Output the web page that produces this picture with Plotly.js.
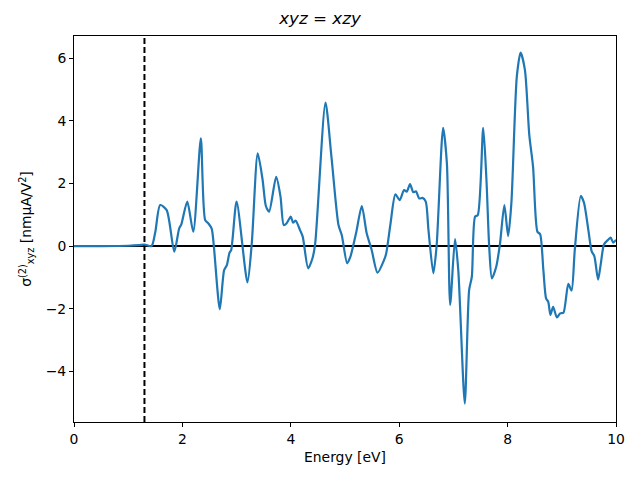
<!DOCTYPE html>
<html>
<head>
<meta charset="utf-8">
<script src="https://cdn.plot.ly/plotly-3.0.1.min.js"></script>
<style>
  body { margin: 0; background: #fff; }
  #plot { width: 640px; height: 480px; }
</style>
</head>
<body>
<div id="plot"></div>
<script>
// energy (eV) and sigma values
const energy = [0, 0.5, 1.0, 1.2, 1.3, 1.43, 1.5, 1.59, 1.71, 1.85, 1.94, 1.98, 2.09, 2.20, 2.34, 2.42, 2.48, 2.54, 2.58,
  2.69, 2.77, 2.82, 2.87, 2.90, 3.00, 3.20, 3.28, 3.39, 3.48, 3.54, 3.60, 3.73, 3.81, 3.87, 3.92, 4.00, 4.04, 4.09,
  4.17, 4.22, 4.32, 4.40, 4.45, 4.64, 4.75, 4.88, 4.94, 5.04, 5.10, 5.21, 5.31, 5.40, 5.49, 5.60, 5.72, 5.76, 5.84,
  5.93, 6.01, 6.09, 6.14, 6.20, 6.26, 6.31, 6.37, 6.43, 6.49, 6.54, 6.63, 6.69, 6.81, 6.88, 6.94, 7.03, 7.09, 7.21,
  7.29, 7.34, 7.40, 7.45, 7.55, 7.61, 7.66, 7.71, 7.79, 7.86, 7.94, 8.01, 8.07, 8.17, 8.24, 8.32, 8.40, 8.47, 8.55,
  8.60, 8.66, 8.71, 8.75, 8.79, 8.84, 8.91, 8.97, 9.03, 9.12, 9.18, 9.24, 9.35, 9.41, 9.49, 9.55, 9.60, 9.67, 9.72,
  9.78, 9.86, 9.90, 9.95, 10.0];
const sigma = [0, 0, 0.01, 0.03, 0.05, 0.0, 0.45, 1.31, 1.15, -0.18, 0.56, 0.69, 1.42, 0.46, 3.44, 0.83, 0.72, 0.56, 0.0,
  -2.02, -0.77, -0.61, -0.21, -0.13, 1.42, -1.16, 0.09, 2.96, 2.11, 1.28, 1.10, 2.21, 1.58, 0.67, 0.72, 0.94, 0.75, 0.81,
  0.51, 0.30, -0.71, -0.39, 0.08, 4.58, 2.85, 0.67, 0.35, -0.55, -0.34, 0.46, 1.28, 0.41, -0.11, -0.85, -0.45, -0.24, 0.72,
  1.65, 1.47, 1.79, 1.74, 1.98, 1.72, 1.75, 1.52, 1.54, 1.42, 0.51, -0.87, 0.0, 3.78, 2.64, -1.88, 0.22, -0.77, -5.03,
  -1.41, -0.98, 0.94, 0.99, 3.78, 2.11, 0.0, -1.03, -0.66, 0.08, 1.31, 0.32, 1.38, 5.41, 6.18, 5.62, 3.55, 2.53, 0.46,
  0.38, -0.77, -1.67, -1.78, -2.20, -1.94, -2.28, -2.15, -2.13, -1.21, -1.42, -0.11, 1.60, 1.38, 0.51, -0.16, -0.32, -1.07, -0.56,
  0.06, 0.21, 0.27, 0.11, 0.2];

// reference lines
const zeroX = [0, 10];
const zeroY = [0, 0];
const gapX = [1.3, 1.3];
const gapY = [-5.62, 6.71];

const xTicks = [0, 2, 4, 6, 8, 10];
const yTicks = [-4, -2, 0, 2, 4, 6];

const font = "DejaVu Sans, sans-serif";

const traces = [
  { x: zeroX, y: zeroY, mode: "lines", line: { color: "black", width: 2 }, hoverinfo: "skip" },
  { x: gapX, y: gapY, mode: "lines", line: { color: "black", width: 2, dash: "6px,3px" }, hoverinfo: "skip" },
  { x: energy, y: sigma, mode: "lines", line: { color: "#1f77b4", width: 2.2, shape: "spline", smoothing: 0.7 } }
];

const layout = {
  width: 640,
  height: 480,
  showlegend: false,
  paper_bgcolor: "white",
  plot_bgcolor: "white",
  margin: { l: 74, r: 24, t: 36, b: 58 },
  font: { family: font, size: 13.9, color: "black" },
  title: { text: "<i>xyz</i> = <i>xzy</i>", font: { family: font, size: 16.7 }, x: 0.5, xanchor: "center", y: 0.962, yanchor: "middle" },
  xaxis: {
    range: [0, 10], tickvals: xTicks, ticks: "outside", ticklen: 4, tickcolor: "black",
    showline: true, mirror: true, linecolor: "black", linewidth: 1, showgrid: false, zeroline: false,
    title: { text: "Energy [eV]", font: { size: 13.9 }, standoff: 6 }
  },
  yaxis: {
    range: [-5.62, 6.71], tickvals: yTicks, ticks: "outside", ticklen: 4, tickcolor: "black",
    showline: true, mirror: true, linecolor: "black", linewidth: 1, showgrid: false, zeroline: false,
    title: { text: "σ<sup>(2)</sup><sub>xyz</sub> [nmμA/V<sup>2</sup>]", font: { size: 13.9 }, standoff: 10 }
  }
};

Plotly.newPlot("plot", traces, layout, { staticPlot: true });
</script>
</body>
</html>
